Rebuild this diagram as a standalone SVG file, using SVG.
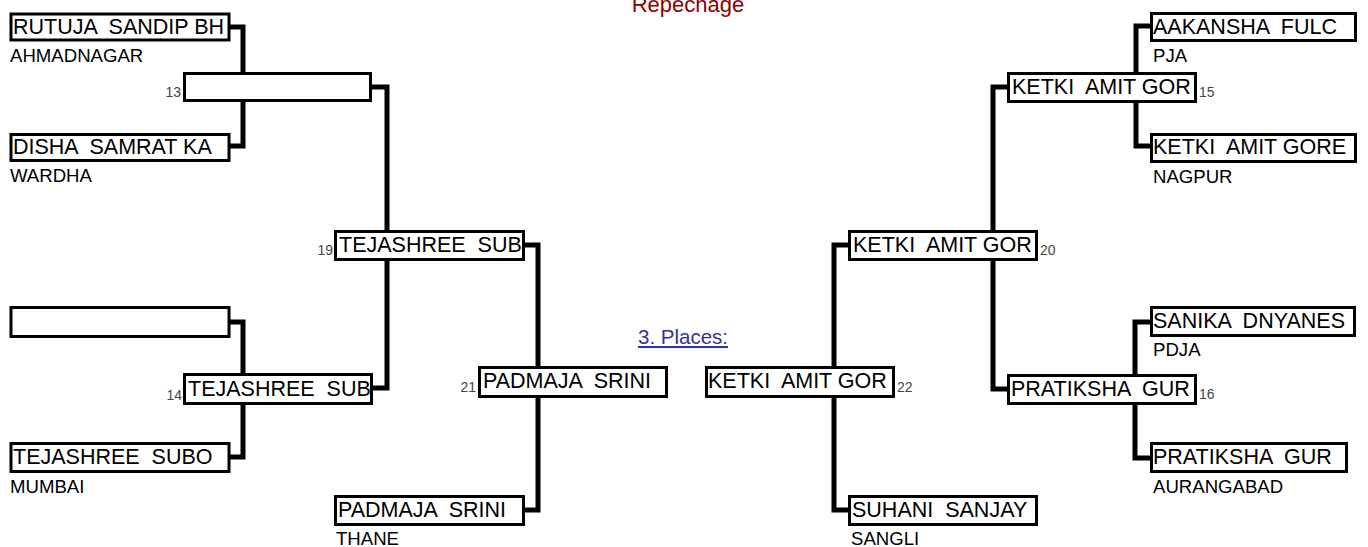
<svg xmlns="http://www.w3.org/2000/svg" width="1368" height="547" viewBox="0 0 1368 547">
<style>
.box{fill:#fff;stroke:#000;stroke-width:3}
.nm{font-family:"Liberation Sans",Arial,sans-serif;font-size:21.5px;fill:#000;white-space:pre}
.sub{font-family:"Liberation Sans",Arial,sans-serif;font-size:18.6px;fill:#000}
.num{font-family:"Liberation Sans",Arial,sans-serif;font-size:14px;fill:#444}
.con{fill:none;stroke:#000;stroke-width:5;stroke-linejoin:miter}
</style>
<rect width="1368" height="547" fill="#fff"/>
<text x="688" y="12" text-anchor="middle" font-family="Liberation Sans, Arial, sans-serif" font-size="22" fill="#8B0000">Repechage</text>
<text x="638" y="344" font-family="Liberation Sans, Arial, sans-serif" font-size="20.5" fill="#333399" text-decoration="underline">3. Places:</text>
<g id="connectors">
<path class="con" d="M230,27 H243 V146 H230"/>
<path class="con" d="M372,87 H387 V388 H373"/>
<path class="con" d="M230,322 H243 V457 H230"/>
<path class="con" d="M525,245 H538 V510 H525"/>
<path class="con" d="M1150,26 H1136 V146 H1150"/>
<path class="con" d="M1007,87 H993 V389 H1007"/>
<path class="con" d="M1150,322 H1135 V458 H1150"/>
<path class="con" d="M848,245 H834 V510 H848"/>
</g>
<g id="n-rutuja"><rect class="box" x="11" y="14" width="218" height="26"/><text class="nm" x="13" y="33.5" xml:space="preserve">RUTUJA  SANDIP BH</text><text class="sub" x="10" y="62">AHMADNAGAR</text></g>
<g id="n-13"><rect class="box" x="184.5" y="73.5" width="186" height="27"/><text class="num" x="181" y="97" text-anchor="end">13</text></g>
<g id="n-disha"><rect class="box" x="11" y="134.5" width="218" height="26"/><text class="nm" x="13" y="154" xml:space="preserve">DISHA  SAMRAT KA</text><text class="sub" x="10" y="182">WARDHA</text></g>
<g id="n-19"><rect class="box" x="335.5" y="231.5" width="188" height="28"/><text class="nm" x="339" y="252" xml:space="preserve">TEJASHREE  SUB</text><text class="num" x="333" y="255" text-anchor="end">19</text></g>
<g id="n-empty"><rect class="box" x="11" y="307.5" width="218" height="29"/></g>
<g id="n-14"><rect class="box" x="184.5" y="374.5" width="187" height="29"/><text class="nm" x="188" y="396" xml:space="preserve">TEJASHREE  SUB</text><text class="num" x="182" y="400" text-anchor="end">14</text></g>
<g id="n-subo"><rect class="box" x="11" y="443.5" width="218" height="28"/><text class="nm" x="13" y="464" xml:space="preserve">TEJASHREE  SUBO</text><text class="sub" x="10" y="493">MUMBAI</text></g>
<g id="n-21"><rect class="box" x="479.5" y="367.5" width="187" height="29"/><text class="nm" x="483" y="388" xml:space="preserve">PADMAJA  SRINI</text><text class="num" x="476" y="392" text-anchor="end">21</text></g>
<g id="n-padmaja"><rect class="box" x="335.5" y="496.5" width="188" height="28"/><text class="nm" x="338" y="517" xml:space="preserve">PADMAJA  SRINI</text><text class="sub" x="336" y="545">THANE</text></g>
<g id="n-22"><rect class="box" x="706.5" y="367.5" width="187" height="29"/><text class="nm" x="708" y="388" xml:space="preserve">KETKI  AMIT GOR</text><text class="num" x="897" y="392">22</text></g>
<g id="n-suhani"><rect class="box" x="849.5" y="496.5" width="187" height="28"/><text class="nm" x="852" y="517" xml:space="preserve">SUHANI  SANJAY</text><text class="sub" x="851" y="545">SANGLI</text></g>
<g id="n-20"><rect class="box" x="849.5" y="231.5" width="187" height="28"/><text class="nm" x="853" y="252" xml:space="preserve">KETKI  AMIT GOR</text><text class="num" x="1040" y="255">20</text></g>
<g id="n-15"><rect class="box" x="1008.5" y="73.5" width="187" height="28"/><text class="nm" x="1012" y="94" xml:space="preserve">KETKI  AMIT GOR</text><text class="num" x="1199" y="97">15</text></g>
<g id="n-16"><rect class="box" x="1008.5" y="375.5" width="187" height="28"/><text class="nm" x="1011" y="396" xml:space="preserve">PRATIKSHA  GUR</text><text class="num" x="1199" y="399">16</text></g>
<g id="n-aakansha"><rect class="box" x="1151.5" y="13.5" width="204" height="27"/><text class="nm" x="1153" y="33.5" xml:space="preserve">AAKANSHA  FULC</text><text class="sub" x="1153" y="62">PJA</text></g>
<g id="n-ketkigore"><rect class="box" x="1151.5" y="134.5" width="204" height="27"/><text class="nm" x="1153" y="154" xml:space="preserve">KETKI  AMIT GORE</text><text class="sub" x="1153" y="183">NAGPUR</text></g>
<g id="n-sanika"><rect class="box" x="1151.5" y="307.5" width="203" height="28"/><text class="nm" x="1153" y="328" xml:space="preserve">SANIKA  DNYANES</text><text class="sub" x="1153" y="356">PDJA</text></g>
<g id="n-pratiksha"><rect class="box" x="1151.5" y="443.5" width="195" height="28"/><text class="nm" x="1153" y="464" xml:space="preserve">PRATIKSHA  GUR</text><text class="sub" x="1153" y="493">AURANGABAD</text></g>
</svg>
